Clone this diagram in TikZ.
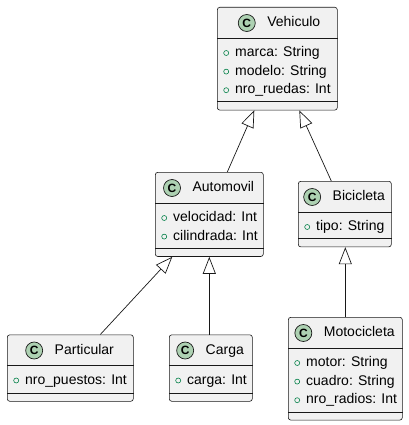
\documentclass[tikz,border=0pt]{standalone}
\usepackage{fontspec}
\setmainfont{Liberation Sans}
\usetikzlibrary{arrows.meta,positioning}

\definecolor{clsfill}{HTML}{F1F1F1}
\definecolor{clsline}{HTML}{181818}
\definecolor{badgefill}{HTML}{ADD1B2}
\definecolor{dotline}{HTML}{038048}

\tikzset{
  cls/.style={draw=clsline, fill=clsfill, line width=0.6pt, rounded corners=2.5pt, anchor=north west, inner sep=0pt},
  clssep/.style={draw=clsline, line width=0.6pt},
  badge/.style={circle, draw=clsline, fill=badgefill, line width=0.7pt, minimum size=17pt, inner sep=0pt, font=\fontsize{12}{12}\selectfont\bfseries},
  clstitle/.style={inner sep=0pt, font=\fontsize{14}{16}\selectfont, text height=10pt, text depth=3pt, label={[badge, label distance=11.5pt]left:C}},
  attrdot/.style={circle, draw=dotline, line width=0.6pt, minimum size=5pt, inner sep=0pt},
  attr/.style={anchor=west, inner sep=0pt, font=\fontsize{14}{16}\selectfont, text height=10pt, text depth=3pt, label={[attrdot, label distance=6pt]left:{}}},
  extends/.style={draw=clsline, line width=0.7pt, -{Triangle[open, length=17pt, width=13pt]}},
}

\begin{document}
\begin{tikzpicture}[x=1pt, y=-1pt]
  \useasboundingbox (0,0) rectangle (408,425);

  % Vehiculo
  \node[cls, minimum width=120pt, minimum height=102.8pt] (vehiculo) at (217,7) {};
  \draw[clssep] ([yshift=-31pt]vehiculo.north west) -- ([yshift=-31pt]vehiculo.north east);
  \draw[clssep] ([yshift=-94.8pt]vehiculo.north west) -- ([yshift=-94.8pt]vehiculo.north east);
  \node[clstitle] (vehiculoT) at ([xshift=16.5pt, yshift=-16pt]vehiculo.north) {Vehiculo};
  \node[attr] (vehiculoA1) at ([xshift=18pt, yshift=-46pt]vehiculo.north west) {marca: String};
  \node[attr] (vehiculoA2) at ([xshift=18pt, yshift=-64.6pt]vehiculo.north west) {modelo: String};
  \node[attr] (vehiculoA3) at ([xshift=18pt, yshift=-83.2pt]vehiculo.north west) {nro\_ruedas: Int};

  % Automovil
  \node[cls, minimum width=108pt, minimum height=84.2pt] (automovil) at (155,172) {};
  \draw[clssep] ([yshift=-31pt]automovil.north west) -- ([yshift=-31pt]automovil.north east);
  \draw[clssep] ([yshift=-76.2pt]automovil.north west) -- ([yshift=-76.2pt]automovil.north east);
  \node[clstitle] (automovilT) at ([xshift=14pt, yshift=-16pt]automovil.north) {Automovil};
  \node[attr] (automovilA1) at ([xshift=18pt, yshift=-46pt]automovil.north west) {velocidad: Int};
  \node[attr] (automovilA2) at ([xshift=18pt, yshift=-64.6pt]automovil.north west) {cilindrada: Int};

  % Bicicleta
  \node[cls, minimum width=93pt, minimum height=65.6pt] (bicicleta) at (298,181) {};
  \draw[clssep] ([yshift=-31pt]bicicleta.north west) -- ([yshift=-31pt]bicicleta.north east);
  \draw[clssep] ([yshift=-57.6pt]bicicleta.north west) -- ([yshift=-57.6pt]bicicleta.north east);
  \node[clstitle] (bicicletaT) at ([xshift=14pt, yshift=-16pt]bicicleta.north) {Bicicleta};
  \node[attr] (bicicletaA1) at ([xshift=18pt, yshift=-46pt]bicicleta.north west) {tipo: String};

  % Particular
  \node[cls, minimum width=126pt, minimum height=66.5pt] (particular) at (7,334.5) {};
  \draw[clssep] ([yshift=-31pt]particular.north west) -- ([yshift=-31pt]particular.north east);
  \draw[clssep] ([yshift=-58.3pt]particular.north west) -- ([yshift=-58.3pt]particular.north east);
  \node[clstitle] (particularT) at ([xshift=14pt, yshift=-16pt]particular.north) {Particular};
  \node[attr] (particularA1) at ([xshift=18pt, yshift=-46pt]particular.north west) {nro\_puestos: Int};

  % Carga
  \node[cls, minimum width=83pt, minimum height=66.5pt] (carga) at (169,334.5) {};
  \draw[clssep] ([yshift=-31pt]carga.north west) -- ([yshift=-31pt]carga.north east);
  \draw[clssep] ([yshift=-58.3pt]carga.north west) -- ([yshift=-58.3pt]carga.north east);
  \node[clstitle] (cargaT) at ([xshift=14pt, yshift=-16pt]carga.north) {Carga};
  \node[attr] (cargaA1) at ([xshift=18pt, yshift=-46pt]carga.north west) {carga: Int};

  % Motocicleta
  \node[cls, minimum width=114pt, minimum height=102.8pt] (motocicleta) at (288,317) {};
  \draw[clssep] ([yshift=-31pt]motocicleta.north west) -- ([yshift=-31pt]motocicleta.north east);
  \draw[clssep] ([yshift=-94.8pt]motocicleta.north west) -- ([yshift=-94.8pt]motocicleta.north east);
  \node[clstitle] (motocicletaT) at ([xshift=14pt, yshift=-16pt]motocicleta.north) {Motocicleta};
  \node[attr] (motocicletaA1) at ([xshift=18pt, yshift=-46pt]motocicleta.north west) {motor: String};
  \node[attr] (motocicletaA2) at ([xshift=18pt, yshift=-64.6pt]motocicleta.north west) {cuadro: String};
  \node[attr] (motocicletaA3) at ([xshift=18pt, yshift=-83.2pt]motocicleta.north west) {nro\_radios: Int};

  % herencia
  \draw[extends] ([xshift=18pt]automovil.north) -- ([xshift=-23pt]vehiculo.south);
  \draw[extends] ([xshift=-13.5pt]bicicleta.north) -- ([xshift=22pt]vehiculo.south);
  \draw[extends] ([xshift=30pt]particular.north) -- ([xshift=-37pt]automovil.south);
  \draw[extends] ([xshift=-1.5pt]carga.north) -- (automovil.south);
  \draw[extends] (motocicleta.north) -- ([xshift=0.5pt]bicicleta.south);
\end{tikzpicture}
\end{document}
